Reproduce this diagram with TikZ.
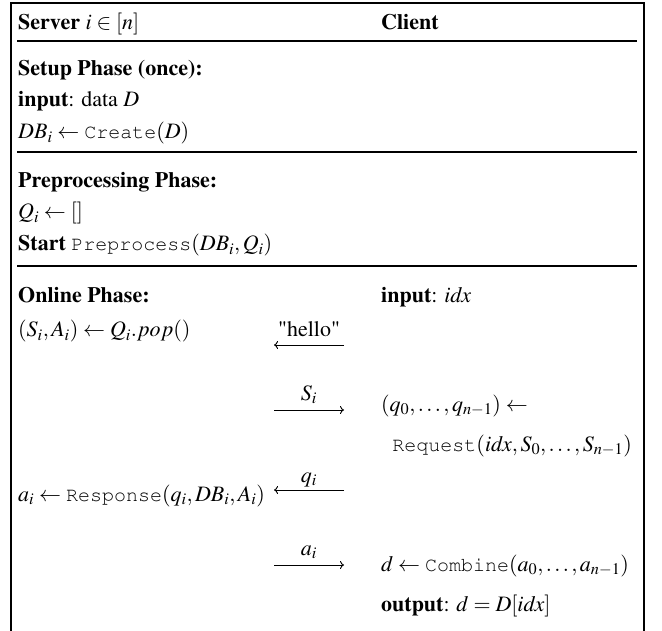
\documentclass[tikz,border=0pt]{standalone}
\usepackage[T1]{fontenc}
\usepackage{mathptmx}
\usepackage{courier}
\usetikzlibrary{arrows.meta}
\newcommand{\tfn}[1]{\mbox{\fontsize{20}{22}\selectfont\ttfamily #1}}
\begin{document}
\begin{tikzpicture}[x=1pt,y=-1pt,
  txt/.style={anchor=base west, inner sep=0pt, font=\fontsize{22}{26}\selectfont},
  rtxt/.style={anchor=base east, inner sep=0pt, font=\fontsize{22}{26}\selectfont},
  lbl/.style={anchor=base, inner sep=0pt, font=\fontsize{22}{26}\selectfont},
  frameline/.style={line width=1.4pt},
  rulel/.style={line width=1.1pt},
  msg/.style={line width=0.9pt, -{To[length=4pt,width=8pt]}}]
\useasboundingbox (0,0) rectangle (662,631);
% frame
\coordinate (fbl) at (11,631);
\coordinate (ftl) at (11,3);
\coordinate (ftr) at (644,3);
\coordinate (fbr) at (644,631);
\draw[frameline] (fbl) -- (ftl) -- (ftr) -- (fbr);
% rules
\coordinate (r1l) at (17,41);  \coordinate (r1r) at (637,41);
\coordinate (r2l) at (17,152); \coordinate (r2r) at (637,152);
\coordinate (r3l) at (17,266); \coordinate (r3r) at (637,266);
\draw[rulel] (r1l) -- (r1r);
\draw[rulel] (r2l) -- (r2r);
\draw[rulel] (r3l) -- (r3r);
% header
\node[txt] (server) at (18,30) {\textbf{Server} $i\in[n]$};
\node[txt] (client) at (381,30) {\textbf{Client}};
% setup
\node[txt] (setup) at (18,76) {\textbf{Setup Phase (once):}};
\node[txt] (inp) at (18,107) {\textbf{input}: data $D$};
\node[txt] (create) at (18,139) {$DB_i\leftarrow\tfn{Create}(D)$};
% preprocessing
\node[txt] (prep) at (18,188) {\textbf{Preprocessing Phase:}};
\node[txt] (qinit) at (18,219) {$Q_i\leftarrow[]$};
\node[txt] (start) at (18,251) {\textbf{Start} $\tfn{Preprocess}(DB_i,Q_i)$};
% online
\node[txt] (online) at (18,303) {\textbf{Online Phase:}};
\node[txt] (cinp) at (381,303) {\textbf{input}: $\mathit{idx}$};
\node[txt] (pop) at (18,337) {$(S_i,A_i)\leftarrow Q_i.pop()$};
\node[txt] (req1) at (381,411) {$(q_0,\ldots,q_{n-1})\leftarrow$};
\node[rtxt] (req2) at (632,451) {$\tfn{Request}(\mathit{idx},S_0,\ldots,S_{n-1})$};
\node[txt] (resp) at (18,501) {$a_i\leftarrow\tfn{Response}(q_i,DB_i,A_i)$};
\node[txt] (comb) at (381,571) {$d\leftarrow\tfn{Combine}(a_0,\ldots,a_{n-1})$};
\node[txt] (outp) at (381,611) {\textbf{output}: $d=D[\mathit{idx}]$};
% messages
\coordinate (h1) at (274,345); \coordinate (h2) at (344,345);
\coordinate (s1) at (274,410); \coordinate (s2) at (344,410);
\coordinate (q1) at (274,490); \coordinate (q2) at (344,490);
\coordinate (a1) at (274,565); \coordinate (a2) at (344,565);
\draw[msg] (h2) -- (h1);
\draw[msg] (s1) -- (s2);
\draw[msg] (q2) -- (q1);
\draw[msg] (a1) -- (a2);
\node[lbl] (hello) at (309,337) {"hello"};
\node[lbl] (slbl) at (309,400) {$S_i$};
\node[lbl] (qlbl) at (309,482) {$q_i$};
\node[lbl] (albl) at (309,555) {$a_i$};
\end{tikzpicture}
\end{document}
